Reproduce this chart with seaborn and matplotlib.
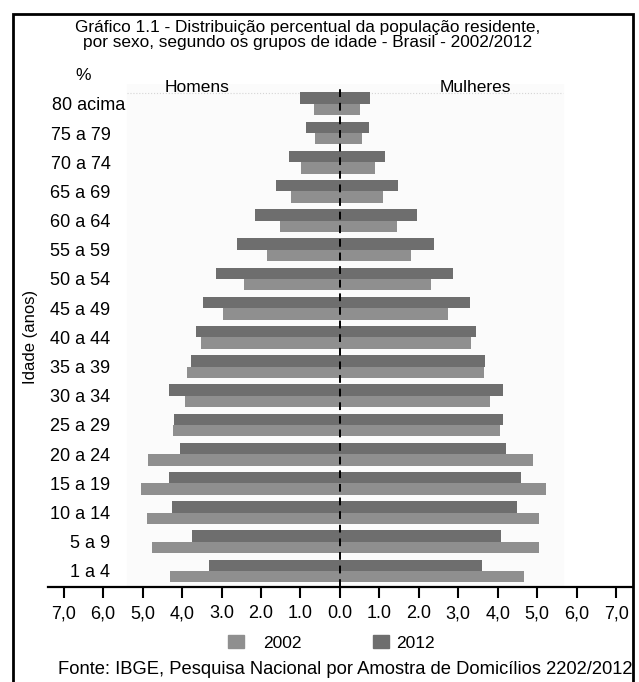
import numpy as np
import pandas as pd
import matplotlib
matplotlib.use('Agg')
import matplotlib.pyplot as plt
from matplotlib.patches import Rectangle, Patch
import seaborn as sns

# age groups, top to bottom
idades = ['80 acima', '75 a 79', '70 a 74', '65 a 69', '60 a 64', '55 a 59',
          '50 a 54', '45 a 49', '40 a 44', '35 a 39', '30 a 34', '25 a 29',
          '20 a 24', '15 a 19', '10 a 14', '5 a 9', '1 a 4']

# % of population
homens_2012 = [1.02, 0.86, 1.29, 1.63, 2.15, 2.62, 3.14, 3.47, 3.65, 3.78,
               4.33, 4.20, 4.06, 4.34, 4.25, 3.74, 3.32]
homens_2002 = [0.66, 0.63, 0.99, 1.24, 1.52, 1.84, 2.44, 2.96, 3.53, 3.87,
               3.93, 4.22, 4.86, 5.05, 4.88, 4.76, 4.31]
mulheres_2012 = [0.76, 0.73, 1.14, 1.46, 1.96, 2.38, 2.87, 3.29, 3.46, 3.67,
                 4.13, 4.12, 4.20, 4.60, 4.49, 4.09, 3.61]
mulheres_2002 = [0.52, 0.57, 0.90, 1.10, 1.45, 1.80, 2.30, 2.74, 3.32, 3.65,
                 3.81, 4.05, 4.88, 5.23, 5.04, 5.04, 4.67]

tick_vals = list(range(-7, 8))
tick_labels = ['7,0', '6,0', '5,0', '4,0', '3.0', '2.0', '1.0', '0.0',
               '1.0', '2.0', '3,0', '4,0', '5,0', '6,0', '7,0']

plt.rcParams['font.family'] = ['Liberation Sans', 'DejaVu Sans']

df_h = pd.DataFrame({
    'idade': idades * 2,
    'ano': ['2012'] * 17 + ['2002'] * 17,
    'valor': [-v for v in homens_2012] + [-v for v in homens_2002],
})
df_m = pd.DataFrame({
    'idade': idades * 2,
    'ano': ['2012'] * 17 + ['2002'] * 17,
    'valor': mulheres_2012 + mulheres_2002,
})

cores = {'2012': '#6e6e6e', '2002': '#8f8f8f'}

W, H = 639, 682
fig = plt.figure(figsize=(W / 100, H / 100), dpi=100)
ax = fig.add_axes([0.075, 0.1393, 0.914, 0.738])

ax.axvspan(-5.4, 5.66, color='#fbfbfb', zorder=0)

for d in (df_h, df_m):
    sns.barplot(data=d, x='valor', y='idade', hue='ano', order=idades,
                hue_order=['2012', '2002'], palette=cores, orient='h',
                width=0.78, dodge=True, saturation=1, legend=False,
                linewidth=0, ax=ax, zorder=2)

ax.set_ylim(16.55, -0.69)
ax.set_xlim(-7.4, 7.4)
ax.axvline(0, color='black', ls=(0, (4, 3)), lw=1.4, zorder=3)
ax.plot([-5.4, 5.66], [-0.38, -0.38], color='#d5d5d5', lw=0.8, ls=':', zorder=1)

for s in ['top', 'right', 'left']:
    ax.spines[s].set_visible(False)
ax.spines['bottom'].set_linewidth(1.6)
ax.set_xticks(tick_vals)
ax.set_xticklabels(tick_labels, fontsize=13)
ax.tick_params(axis='x', direction='out', length=8, width=1.5, pad=5)
ax.tick_params(axis='y', length=0, pad=-45, labelsize=13)
ax.set_xlabel('')
ax.set_ylabel('')
for lab in ax.get_yticklabels():
    lab.set_horizontalalignment('right')
    if lab.get_text() == '80 acima':
        lab.set_x(15 / (W * 0.914))
ax.set_facecolor('white')

fig.text(30 / W, 1 - 337 / H, 'Idade (anos)', rotation=90, ha='center',
         va='center', fontsize=12)

fig.text(308 / W, 1 - 35 / H,
         'Gráfico 1.1 - Distribuição percentual da população residente,\n'
         'por sexo, segundo os grupos de idade - Brasil - 2002/2012',
         ha='center', va='center', fontsize=12.4, linespacing=0.95)
fig.text(83 / W, 1 - 75 / H, '%', ha='center', va='center', fontsize=12.5)
fig.text(197 / W, 1 - 88 / H, 'Homens', ha='center', va='center', fontsize=12.5)
fig.text(475 / W, 1 - 88 / H, 'Mulheres', ha='center', va='center', fontsize=12.5)

# legend: two separate entries, spaced like the original
leg_y = 1 - 643 / H
fig.legend(handles=[Patch(color=cores['2002'], label='2002')],
           loc='center left', bbox_to_anchor=(228 / W, leg_y),
           frameon=False, fontsize=12.5, handlelength=0.95,
           handleheight=0.8, handletextpad=1.1, borderpad=0,
           borderaxespad=0)
fig.legend(handles=[Patch(color=cores['2012'], label='2012')],
           loc='center left', bbox_to_anchor=(373 / W, leg_y),
           frameon=False, fontsize=12.5, handlelength=0.95,
           handleheight=0.8, handletextpad=0.4, borderpad=0,
           borderaxespad=0)

fig.text(345 / W, 1 - 670 / H,
         'Fonte: IBGE, Pesquisa Nacional por Amostra de Domicílios 2202/2012',
         ha='center', va='center', fontsize=13.2)

fig.patches.append(Rectangle((13 / W, -0.02), 620 / W, 1.01 - 7 / H,
                             transform=fig.transFigure, fill=False,
                             edgecolor='black', lw=2))

fig.savefig('out.png', dpi=100)
